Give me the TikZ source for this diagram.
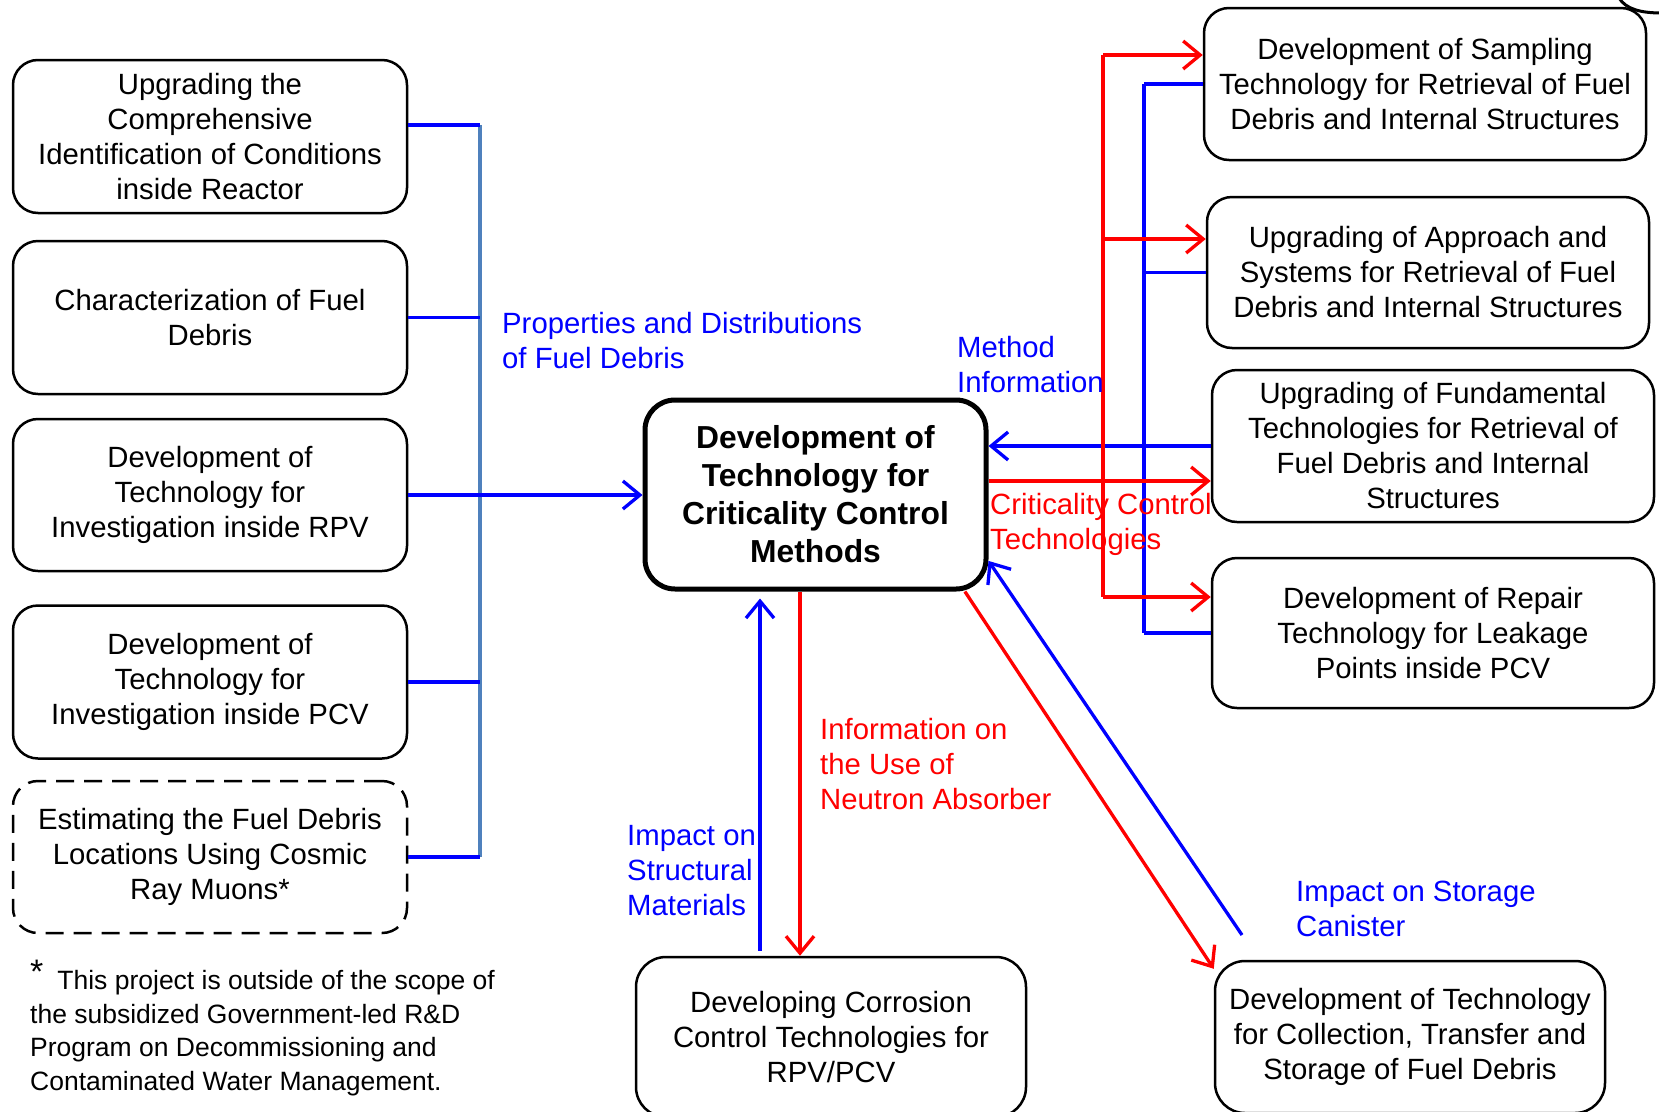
\documentclass[tikz,border=0pt]{standalone}
\usepackage{fontspec}
\setmainfont{Liberation Sans}
\usetikzlibrary{arrows.meta}

\definecolor{busblue}{RGB}{79,129,189}

\begin{document}
\begin{tikzpicture}[x=1pt,y=-1pt,
    box/.style={draw,line width=2.5pt,rounded corners=25pt,align=center,inner sep=4pt,
        font=\fontsize{29.3pt}{35pt}\selectfont},
    mainbox/.style={draw,line width=5pt,rounded corners=30pt,align=center,inner sep=4pt,
        font=\fontsize{31.8pt}{38pt}\selectfont\bfseries},
    note/.style={align=left,inner sep=0pt,font=\fontsize{29.3pt}{35pt}\selectfont},
    blueline/.style={draw=blue,line width=3.3pt},
    redline/.style={draw=red,line width=3.3pt},
    bluearrow/.style={blueline,-{Straight Barb[length=17pt,width=28pt]}},
    redarrow/.style={redline,-{Straight Barb[length=17pt,width=28pt]}}]

    \useasboundingbox (0,0) rectangle (1659,1111);

    % left column
    \node[box,minimum width=394pt,minimum height=153pt] (cond) at (210,136.5)
        {Upgrading the\\Comprehensive\\Identification of Conditions\\inside Reactor};
    \node[box,minimum width=394pt,minimum height=153pt] (chara) at (210,317.5)
        {Characterization of Fuel\\Debris};
    \node[box,minimum width=394pt,minimum height=152pt] (rpv) at (210,495)
        {Development of\\Technology for\\Investigation inside RPV};
    \node[box,minimum width=394pt,minimum height=153pt] (pcv) at (210,682)
        {Development of\\Technology for\\Investigation inside PCV};
    \node[box,dash pattern=on 18pt off 10pt,minimum width=394pt,minimum height=152pt] (muon) at (210,857)
        {Estimating the Fuel Debris\\Locations Using Cosmic\\Ray Muons*};

    % centre
    \node[mainbox,minimum width=341pt,minimum height=189pt] (crit) at (815.5,494.5)
        {Development of\\Technology for\\Criticality Control\\Methods};

    % right column
    \node[box,minimum width=442pt,minimum height=152pt] (sampl) at (1425,84)
        {Development of Sampling\\Technology for Retrieval of Fuel\\Debris and Internal Structures};
    \node[box,minimum width=442pt,minimum height=151pt] (approach) at (1428,272.5)
        {Upgrading of Approach and\\Systems for Retrieval of Fuel\\Debris and Internal Structures};
    \node[box,minimum width=442pt,minimum height=152pt] (fundam) at (1433,446)
        {Upgrading of Fundamental\\Technologies for Retrieval of\\Fuel Debris and Internal\\Structures};
    \node[box,minimum width=442pt,minimum height=150pt] (repair) at (1433,633)
        {Development of Repair\\Technology for Leakage\\Points inside PCV};

    % bottom row
    \node[box,rounded corners=30pt,minimum width=390pt,minimum height=160pt] (corros) at (831,1037)
        {Developing Corrosion\\Control Technologies for\\RPV/PCV};
    \node[box,rounded corners=30pt,minimum width=390pt,minimum height=152pt] (storage) at (1410,1037)
        {Development of Technology\\for Collection, Transfer and\\Storage of Fuel Debris};

    % corner of a shape cut off at the top right
    \draw[line width=3pt] (1619,-2) .. controls (1626,9) and (1640,13) .. (1662,13);


    % left bus
    \coordinate (lt) at (480,125);
    \coordinate (lb) at (480,857);
    \draw[draw=busblue,line width=3.5pt] (lt) -- (lb);
    \draw[blueline] (cond.east |- lt) -- (lt);
    \draw[blueline] (chara.east) -- (chara.east -| lt);
    \draw[blueline] (pcv.east) -- (pcv.east -| lt);
    \draw[blueline] (muon.east) -- (muon.east -| lt);
    \draw[bluearrow] (rpv.east) -- (rpv.east -| crit.west);
    \node[note,text=blue,anchor=west] (propl) at (502,341) {Properties and Distributions\\of Fuel Debris};


    % right buses
    \coordinate (bt) at (1144,84);
    \draw[blueline] (bt |- sampl.west) -- (bt |- repair.west);
    \draw[blueline] (bt |- sampl.west) -- (sampl.west);
    \draw[blueline] (bt |- approach.west) -- (approach.west);
    \draw[blueline] (bt |- repair.west) -- (repair.west);
    \draw[bluearrow] (fundam.west) -- (fundam.west -| crit.east);

    \coordinate (rt1) at (1103,55);
    \coordinate (rt2) at (1103,239);
    \coordinate (rt3) at (1103,481);
    \coordinate (rt4) at (1103,597);
    \draw[redline] (rt1) -- (rt4);
    \draw[redarrow] (rt1) -- (rt1 -| sampl.west);
    \draw[redarrow] (rt2) -- (rt2 -| approach.west);
    \draw[redarrow] (rt4) -- (rt4 -| repair.west);
    \draw[redarrow] (crit.east |- rt3) -- (rt3 -| fundam.west);
    \node[note,text=blue,anchor=west] (methl) at (957,364.5) {Method\\Information};
    \node[note,text=red,anchor=west] (critl) at (990,524.5) {Criticality Control\\Technologies};


    % bottom links
    \coordinate (upx) at (760,0);
    \coordinate (dnx) at (800,0);
    \draw[bluearrow,shorten <=5pt,shorten >=7pt] (upx |- corros.north) -- (upx |- crit.south);
    \draw[redarrow] (dnx |- crit.south) -- (dnx |- corros.north);
    \node[note,text=blue,anchor=west] (structl) at (627,871) {Impact on\\Structural\\Materials};
    \node[note,text=red,anchor=west] (absorbl) at (820,764) {Information on\\the Use of\\Neutron Absorber};

    \coordinate (cansrc) at (1242,935);
    \draw[redarrow] (crit.-33) -- ([yshift=-9pt]storage.north west);
    \draw[bluearrow] (cansrc) -- (crit.-21);
    \node[note,text=blue,anchor=west] (canl) at (1296,908.5) {Impact on Storage\\Canister};


    % footnote
    \node[note,anchor=north west,font=\fontsize{26.5pt}{33.6pt}\selectfont] (foot) at (30,960)
        {\raisebox{6pt}{\fontsize{34pt}{34pt}\selectfont *}\hspace{14pt}This project is outside of the scope of\\
        the subsidized Government-led R\&D\\Program on Decommissioning and\\Contaminated Water Management.};

\end{tikzpicture}
\end{document}
